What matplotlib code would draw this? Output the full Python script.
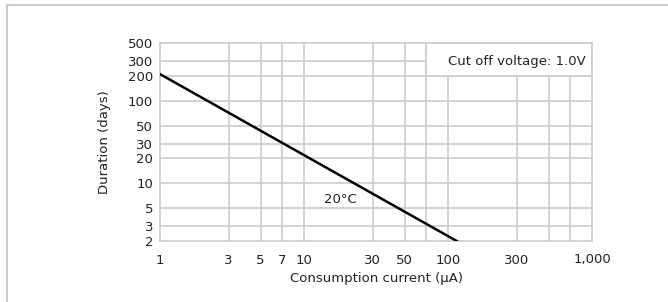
import matplotlib
matplotlib.use('Agg')
import matplotlib.pyplot as plt
from matplotlib.patches import Rectangle
from matplotlib.lines import Line2D
from matplotlib.ticker import FixedLocator, FixedFormatter, NullLocator

plt.rcParams['font.family'] = ['DejaVu Sans']

# data
current = [1, 115]          # consumption current (uA)
duration = [210, 2]         # duration (days)

x_ticks = [1, 3, 5, 7, 10, 30, 50, 100, 300, 1000]
x_labels = ['1', '3', '5', '7', '10', '30', '50', '100', '300', '1,000']
x_grid = [3, 5, 7, 10, 30, 50, 70, 100, 300, 500, 700]
y_ticks = [2, 3, 5, 10, 20, 30, 50, 100, 200, 300, 500]
y_labels = [str(v) for v in y_ticks]

grid_c = '#cccccc'
txt_c = '#222222'
fs = 9.5

fig = plt.figure(figsize=(6.68, 3.02), dpi=100)
ax = fig.add_axes([160/668, 1-241/302, 432/668, 198/302])

ax.set_xscale('log')
ax.set_yscale('log')
ax.set_xlim(1, 1000)
ax.set_ylim(2, 500)

for v in x_grid:
    ax.axvline(v, color=grid_c, lw=1.2, zorder=1)
for v in y_ticks[1:-1]:
    ax.axhline(v, color=grid_c, lw=1.2, zorder=1)

# box for the cut off note, covers the grid behind it
ax.add_patch(Rectangle((70, 200), 1000-70, 500-200, facecolor='white',
                       edgecolor=grid_c, lw=1.2, zorder=2))
ax.text(910, 300, 'Cut off voltage: 1.0V', ha='right', va='center',
        fontsize=fs, color=txt_c, zorder=3)

ax.plot(current, duration, color='black', lw=1.8, zorder=4, clip_on=True)
ax.text(18, 6.4, '20\u00b0C', ha='center', va='center', fontsize=fs, color=txt_c)

ax.xaxis.set_major_locator(FixedLocator(x_ticks))
ax.xaxis.set_major_formatter(FixedFormatter(x_labels))
ax.xaxis.set_minor_locator(NullLocator())
ax.yaxis.set_major_locator(FixedLocator(y_ticks))
ax.yaxis.set_major_formatter(FixedFormatter(y_labels))
ax.yaxis.set_minor_locator(NullLocator())
ax.tick_params(length=0, labelsize=fs, colors=txt_c)
ax.tick_params(axis='x', pad=9)
ax.tick_params(axis='y', pad=5)

for s in ax.spines.values():
    s.set_color(grid_c)
    s.set_linewidth(1.2)

ax.set_xlabel('Consumption current (\u03bcA)', fontsize=fs, color=txt_c, labelpad=4)
ax.set_ylabel('Duration (days)', fontsize=fs, color=txt_c, labelpad=12)

# outer frame, only left and top edges show
fig.add_artist(Line2D([7/668, 7/668], [0, 1-5/302], color='#cccccc', lw=1.5))
fig.add_artist(Line2D([7/668, 1], [1-5/302, 1-5/302], color='#cccccc', lw=1.5))

fig.savefig('out.png', dpi=100)
